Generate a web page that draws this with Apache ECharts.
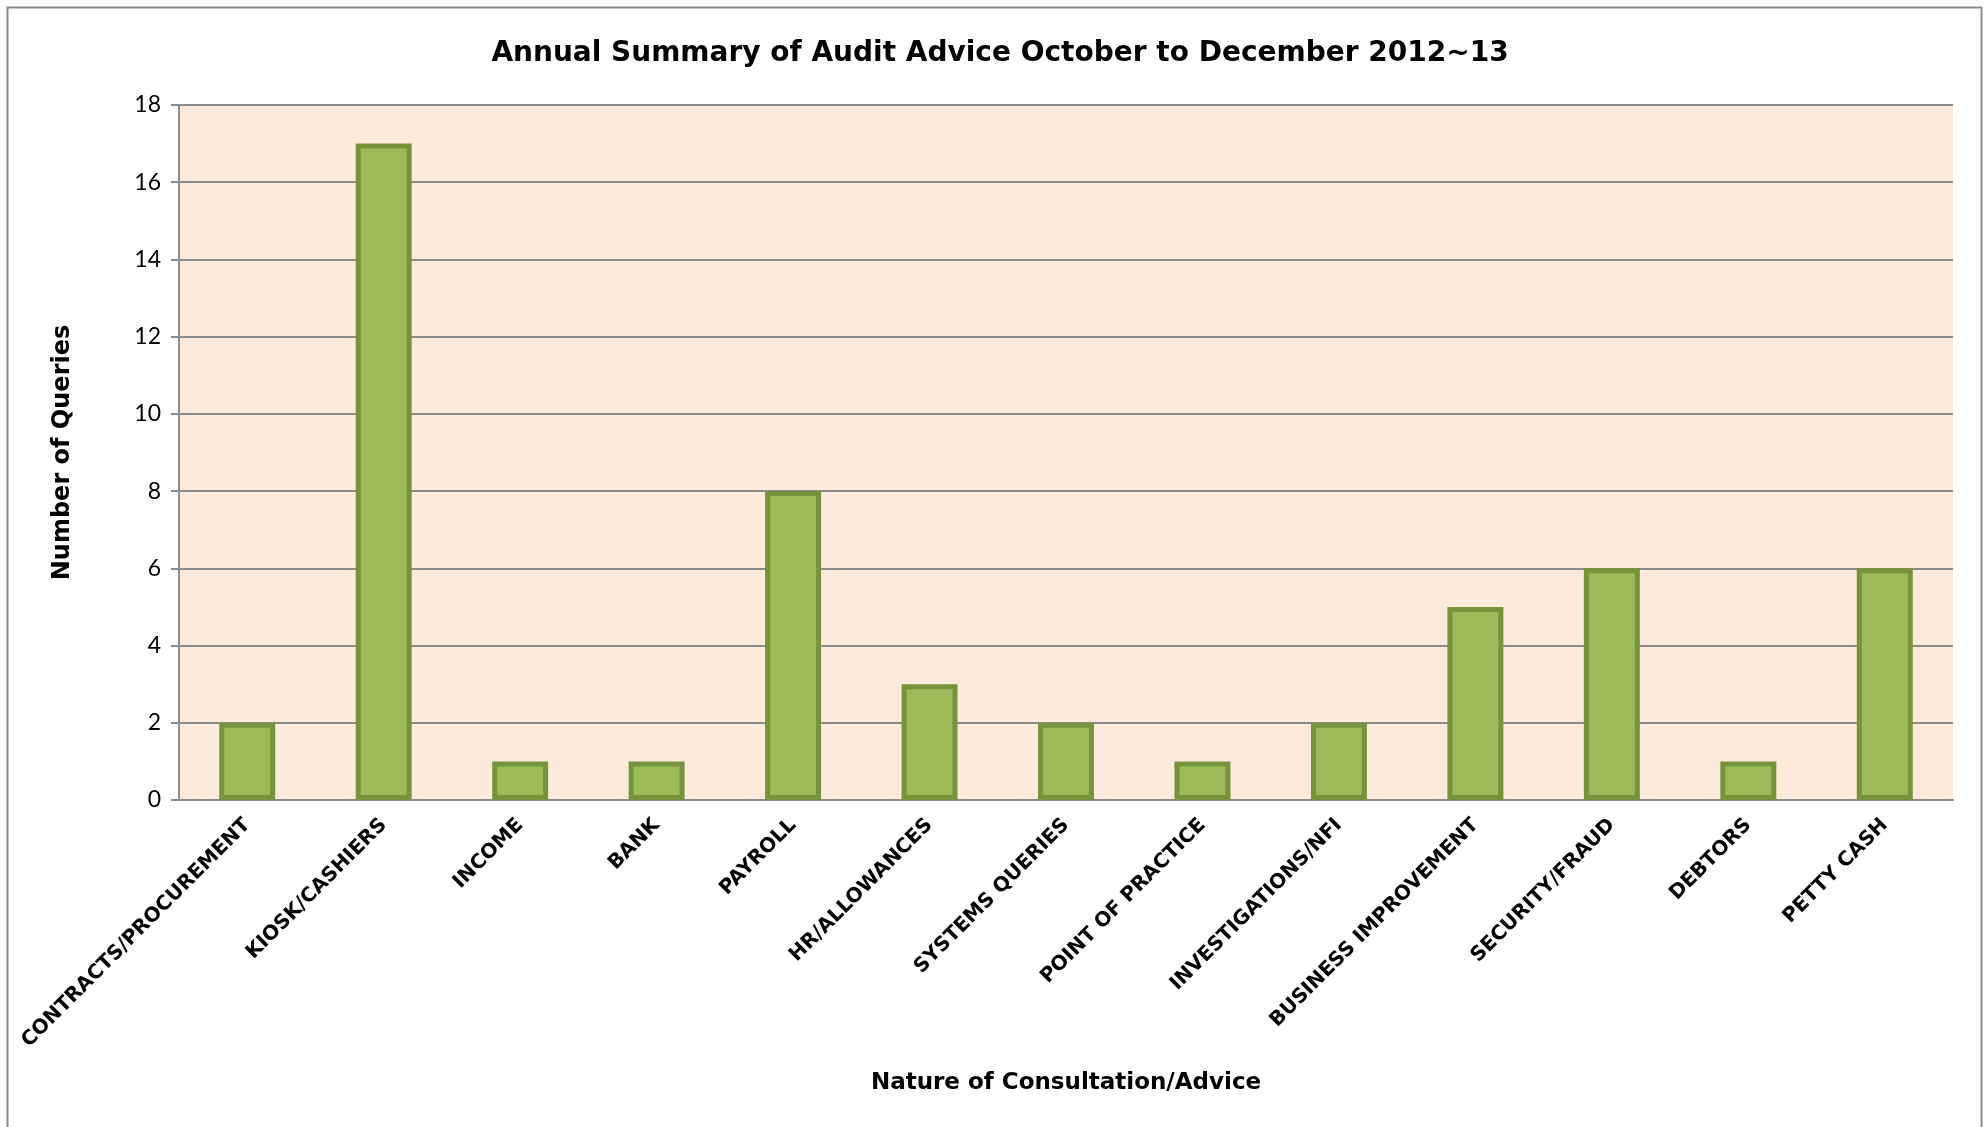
<!DOCTYPE html>
<html>
<head>
<meta charset="utf-8">
<script src="https://cdn.jsdelivr.net/npm/echarts@6/dist/echarts.min.js"></script>
<style>
  html, body { margin: 0; padding: 0; background: #fff; }
  #chart { width: 1988px; height: 1127px; }
</style>
</head>
<body>
<div id="chart"></div>
<script>
const categories = [
  'CONTRACTS/PROCUREMENT', 'KIOSK/CASHIERS', 'INCOME', 'BANK', 'PAYROLL',
  'HR/ALLOWANCES', 'SYSTEMS QUERIES', 'POINT OF PRACTICE', 'INVESTIGATIONS/NFI',
  'BUSINESS IMPROVEMENT', 'SECURITY/FRAUD', 'DEBTORS', 'PETTY CASH'
];
const queries = [2, 17, 1, 1, 8, 3, 2, 1, 2, 5, 6, 1, 6];

const titleText = 'Annual Summary of Audit Advice October to December 2012~13';
const xName = 'Nature of Consultation/Advice';
const yName = 'Number of Queries';

const handFont = '"Comic Sans MS", "DejaVu Sans", sans-serif';
const bodyFont = 'Lato, "Open Sans", sans-serif';

const myChart = echarts.init(document.getElementById('chart'));
let option;
option = {
  backgroundColor: '#ffffff',
  animation: false,
  title: {
    text: titleText,
    left: 995,
    top: 35,
    textAlign: 'center',
    textStyle: {fontFamily: handFont, fontWeight: 'bold', fontSize: 28, color: '#000'}
  },
  graphic: [
    {
      type: 'rect',
      shape: {x: 7.5, y: 7.5, width: 1974, height: 1140},
      style: {fill: 'none', stroke: '#8c8c8c', lineWidth: 2},
      silent: true
    }
  ],
  grid: {
    left: 179,
    right: 35,
    top: 105,
    height: 695,
    show: true,
    backgroundColor: '#FDEADA',
    borderWidth: 0
  },
  xAxis: {
    type: 'category',
    data: categories,
    name: xName,
    nameLocation: 'middle',
    nameGap: 272,
    nameTextStyle: {fontFamily: handFont, fontWeight: 'bold', fontSize: 23, color: '#000'},
    axisLine: {show: true, lineStyle: {color: '#8c8c8c', width: 2}},
    axisTick: {show: false},
    axisLabel: {
      rotate: 45,
      interval: 0,
      margin: 22,
      fontFamily: handFont,
      fontWeight: 'bold',
      fontSize: 20,
      color: '#000'
    }
  },
  yAxis: {
    type: 'value',
    min: 0,
    max: 18,
    interval: 2,
    name: yName,
    nameLocation: 'middle',
    nameGap: 104,
    nameTextStyle: {fontFamily: handFont, fontWeight: 'bold', fontSize: 24, color: '#000'},
    axisLine: {show: true, lineStyle: {color: '#8c8c8c', width: 2}},
    axisTick: {show: true, length: 8, lineStyle: {color: '#8c8c8c', width: 2}},
    axisLabel: {fontFamily: bodyFont, fontSize: 23, color: '#000', margin: 18},
    splitLine: {show: true, lineStyle: {color: '#8c8c8c', width: 2}}
  },
  series: [
    {
      type: 'bar',
      data: queries,
      barWidth: '41%',
      itemStyle: {color: '#9BBB59', borderColor: '#77933C', borderWidth: 5}
    }
  ]
};
option && myChart.setOption(option);
</script>
</body>
</html>
